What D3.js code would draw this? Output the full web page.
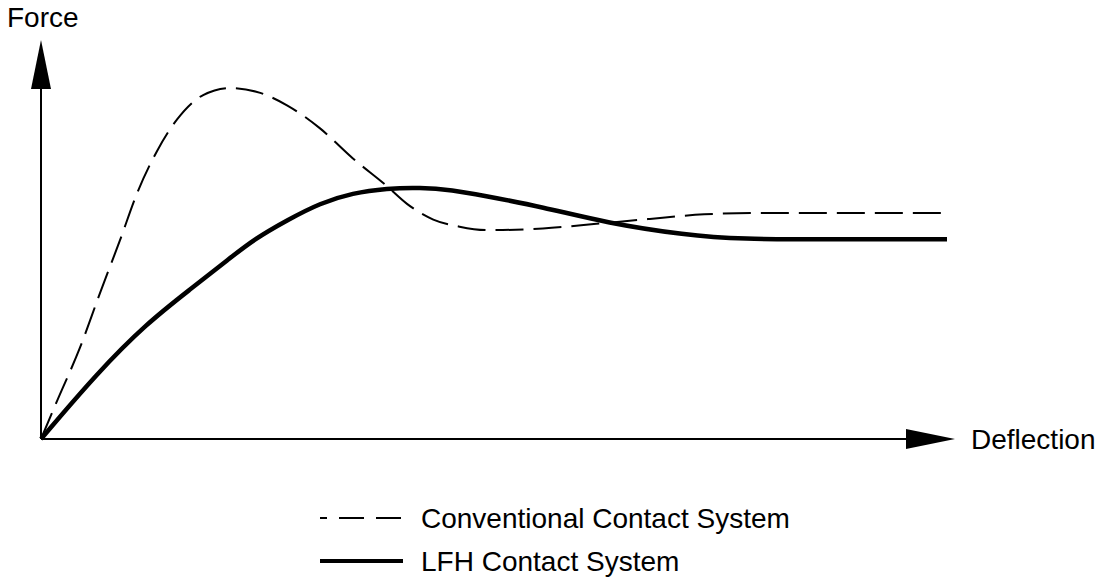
<!DOCTYPE html>
<html>
<head>
<meta charset="utf-8">
<script src="https://cdn.jsdelivr.net/npm/d3@7"></script>
<style>
  html, body { margin: 0; padding: 0; background: #fff; }
  svg { display: block; }
  text { font-family: "Liberation Sans", Arial, Helvetica, sans-serif; fill: #000; }
</style>
</head>
<body>
<div class="container"></div>
<script>
// curve values (deflection 0..100, force 0..100 where 100 = conventional peak)
const convX = [0, 1.8, 4.3, 6.5, 8.7, 10.6, 12.8, 15, 17.9, 20.9, 24.2, 27.2, 30.8, 34.4, 38.2, 40.4, 43.3, 46.2, 49.4, 55.4, 61.3, 67.2, 73.2, 79, 88, 100];
const convY = [0, 11, 26, 41.5, 56.5, 70, 82, 91, 98, 100, 98.6, 95, 88.5, 80, 72, 67, 62.5, 60.5, 59.5, 60, 61.3, 62.7, 64, 64.4, 64.4, 64.4];

const lfhX = [0, 6.2, 11.7, 16.4, 20.9, 23.4, 27.2, 30.8, 34.4, 38.2, 41.8, 45.5, 48.5, 55.4, 62.5, 71.2, 77, 88, 100];
const lfhY = [0, 18.8, 33, 42.5, 51.6, 56.7, 62.4, 67.2, 70.1, 71.4, 71.7, 70.9, 69.5, 66.1, 61.5, 58.1, 56.9, 56.9, 56.9];

const seriesNames = ["Conventional Contact System", "LFH Contact System"];
const axisLabels = ["Deflection", "Force"];

const width = 1105, height = 580;

const svg = d3.select('.container').append('svg')
  .attr('width', width)
  .attr('height', height);

const x = d3.scaleLinear().domain([0, 100]).range([41, 947]);
const y = d3.scaleLinear().domain([0, 100]).range([439, 88]);

// axes with arrow heads
const xTip = x(100) + 8, yTip = 40, headLen = 49, headHalf = 10;
svg.append('line')
  .attr('x1', x(0)).attr('y1', y(0))
  .attr('x2', xTip - headLen + 2).attr('y2', y(0))
  .attr('stroke', '#000').attr('stroke-width', 2);
svg.append('path')
  .attr('d', `M${xTip},${y(0)} L${xTip - headLen},${y(0) - headHalf} L${xTip - headLen},${y(0) + headHalf} Z`)
  .attr('fill', '#000');

svg.append('line')
  .attr('x1', x(0)).attr('y1', y(0))
  .attr('x2', x(0)).attr('y2', yTip + headLen - 2)
  .attr('stroke', '#000').attr('stroke-width', 2);
svg.append('path')
  .attr('d', `M${x(0)},${yTip} L${x(0) - headHalf},${yTip + headLen} L${x(0) + headHalf},${yTip + headLen} Z`)
  .attr('fill', '#000');

svg.append('text')
  .attr('x', 971).attr('y', 449)
  .attr('font-size', '28px')
  .text(axisLabels[0]);
svg.append('text')
  .attr('x', 7).attr('y', 27)
  .attr('font-size', '28px')
  .text(axisLabels[1]);

// curves
const conv = convX.map((v, i) => [v, convY[i]]);
const lfh = lfhX.map((v, i) => [v, lfhY[i]]);

svg.append('path')
  .datum(conv)
  .attr('d', d3.line().x(d => x(d[0])).y(d => y(d[1])).curve(d3.curveMonotoneX))
  .attr('fill', 'none')
  .attr('stroke', '#000')
  .attr('stroke-width', 2)
  .attr('stroke-dasharray', '28,10');

// basis smooths out the reading noise on the thick line
svg.append('path')
  .datum(lfh)
  .attr('d', d3.line().x(d => x(d[0])).y(d => y(d[1])).curve(d3.curveBasis))
  .attr('fill', 'none')
  .attr('stroke', '#000')
  .attr('stroke-width', 4.5);

// legend
const legend = svg.append('g');
const legendRows = [
  { name: seriesNames[0], y: 518, dash: '25,12', offset: 18, w: 2 },
  { name: seriesNames[1], y: 561, dash: null, offset: 0, w: 4 }
];
legendRows.forEach(r => {
  legend.append('line')
    .attr('x1', 320).attr('x2', 403)
    .attr('y1', r.y).attr('y2', r.y)
    .attr('stroke', '#000')
    .attr('stroke-width', r.w)
    .attr('stroke-dasharray', r.dash)
    .attr('stroke-dashoffset', r.offset);
  legend.append('text')
    .attr('x', 421).attr('y', r.y + 10)
    .attr('font-size', '28px')
    .text(r.name);
});
</script>
</body>
</html>
